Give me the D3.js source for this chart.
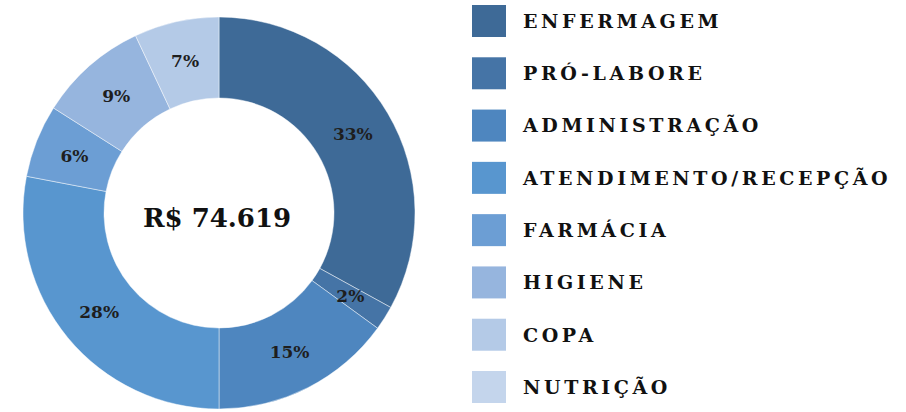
<!DOCTYPE html>
<html>
<head>
<meta charset="utf-8">
<script src="https://cdn.jsdelivr.net/npm/d3@7"></script>
<style>
  body { margin: 0; background: #fff; }
  svg { display: block; }
</style>
</head>
<body>
<svg id="chart" width="906" height="412"></svg>
<script>
const categories = ["ENFERMAGEM", "PRÓ-LABORE", "ADMINISTRAÇÃO", "ATENDIMENTO/RECEPÇÃO",
                    "FARMÁCIA", "HIGIENE", "COPA", "NUTRIÇÃO"];
const shares = [33, 2, 15, 28, 6, 9, 7, 0];
const colors = ["#3e6a97", "#4574a6", "#4e86bf", "#5896cf", "#6c9ed4", "#96b5de", "#b4cae7", "#c4d5ec"];
const totalLabel = "R$ 74.619";

const data = categories.map((c, i) => ({ name: c, value: shares[i] }));

const svg = d3.select("#chart");
const cx = 219, cy = 213;
const outerR = 196, innerR = 115;

const color = d3.scaleOrdinal().domain(categories).range(colors);

const pie = d3.pie()
              .sort(null)
              .value(d => d.value);

const arc = d3.arc()
              .innerRadius(innerR)
              .outerRadius(outerR);

const g = svg.append("g")
             .attr("transform", `translate(${cx}, ${cy})`);

const arcs = pie(data).filter(d => d.data.value > 0);

g.selectAll("path")
 .data(arcs)
 .enter()
 .append("path")
   .attr("d", arc)
   .attr("fill", d => color(d.data.name))
   .attr("stroke", "rgba(255,255,255,0.45)")
   .attr("stroke-width", 1);

g.selectAll("text.pct")
 .data(arcs)
 .enter()
 .append("text")
   .attr("class", "pct")
   .attr("transform", d => `translate(${arc.centroid(d)})`)
   .attr("text-anchor", "middle")
   .attr("dy", "0.36em")
   .attr("font-family", "DejaVu Serif")
   .attr("font-weight", "bold")
   .attr("font-size", 17)
   .attr("fill", "#1e1e1e")
   .text(d => `${d.data.value}%`);

g.append("text")
 .attr("text-anchor", "middle")
 .attr("x", -2)
 .attr("y", 14)
 .attr("font-family", "DejaVu Serif")
 .attr("font-weight", "bold")
 .attr("font-size", 26)
 .attr("fill", "#111")
 .text(totalLabel);

// legend
const yLegend = d3.scalePoint()
                  .domain(categories)
                  .range([21, 387]);

const legend = svg.append("g");

const items = legend.selectAll("g.item")
                    .data(categories)
                    .enter()
                    .append("g")
                    .attr("class", "item")
                    .attr("transform", d => `translate(472, ${yLegend(d)})`);

items.append("rect")
     .attr("x", 0)
     .attr("y", -16)
     .attr("width", 34)
     .attr("height", 32)
     .attr("fill", d => color(d));

items.append("text")
     .attr("x", 51)
     .attr("dy", "0.36em")
     .attr("font-family", "DejaVu Serif")
     .attr("font-weight", "bold")
     .attr("font-size", 19)
     .attr("letter-spacing", 3.6)
     .attr("fill", "#111")
     .text(d => d);
</script>
</body>
</html>
